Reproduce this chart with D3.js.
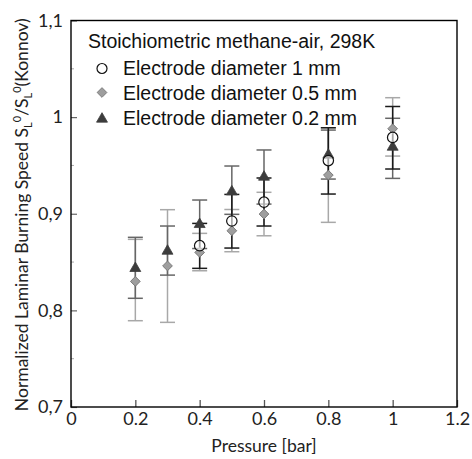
<!DOCTYPE html>
<html><head><meta charset="utf-8">
<script src="https://cdn.jsdelivr.net/npm/d3@7"></script>
<style>body{margin:0;background:#fff}svg{display:block}</style>
</head><body>
<svg id="c" width="472" height="459"></svg>
<script>
// ---- data ----
const xTickValues = [0, 0.2, 0.4, 0.6, 0.8, 1, 1.2];
const xTickLabels = ["0", "0.2", "0.4", "0.6", "0.8", "1", "1.2"];
const yTickValues = [0.7, 0.8, 0.9, 1.0, 1.1];
const yTickLabels = ["0,7", "0,8", "0,9", "1", "1,1"];
const yMinorTicks = [0.75, 0.85, 0.95, 1.05];

// Electrode diameter 1 mm (open circles)
const p1mm = [0.4, 0.5, 0.6, 0.8, 1.0];
const v1mm = [0.867, 0.8925, 0.912, 0.955, 0.979];
const lo1mm = [0.8435, 0.8645, 0.8873, 0.9204, 0.9463];
const hi1mm = [0.890, 0.920, 0.937, 0.989, 1.011];

// Electrode diameter 0.5 mm (grey diamonds)
const p05mm = [0.2, 0.3, 0.4, 0.5, 0.6, 0.8, 1.0];
const v05mm = [0.830, 0.846, 0.860, 0.8824, 0.8997, 0.940, 0.988];
const lo05mm = [0.7893, 0.7876, 0.841, 0.8607, 0.8772, 0.8911, 0.9597];
const hi05mm = [0.8735, 0.9042, 0.8797, 0.9044, 0.9222, 0.989, 1.0201];

// Electrode diameter 0.2 mm (dark triangles)
const p02mm = [0.2, 0.3, 0.4, 0.5, 0.6, 0.8, 1.0];
const v02mm = [0.8435, 0.8614, 0.889, 0.9228, 0.938, 0.9608, 0.969];
const lo02mm = [0.8125, 0.8365, 0.864, 0.8994, 0.910, 0.9359, 0.9366];
const hi02mm = [0.8756, 0.8873, 0.9142, 0.9494, 0.966, 0.9866, 0.9988];

const legendTitle = "Stoichiometric methane-air, 298K";
const legendLabels = ["Electrode diameter 1 mm", "Electrode diameter 0.5 mm", "Electrode diameter 0.2 mm"];

// ---- drawing ----
const svg = d3.select("#c");
const L = 71, R = 457, T = 20.5, B = 407;
const x = d3.scaleLinear().domain([0, 1.2]).range([L, R]);
const y = d3.scaleLinear().domain([0.7, 1.1]).range([B, T]);
const tickFont = "Lato, 'Open Sans', sans-serif";
const legFont = "'Liberation Sans', Arial, sans-serif";

// x axis
const gx = svg.append("g").attr("transform", `translate(0,${B})`)
  .call(d3.axisBottom(x).tickValues(xTickValues).tickSizeInner(-7).tickSizeOuter(0)
    .tickPadding(5).tickFormat((d, i) => xTickLabels[i]));
gx.select(".domain").remove();
gx.selectAll(".tick line").attr("stroke", "#555").attr("stroke-width", 1.3);
gx.selectAll(".tick text").attr("font-family", tickFont).attr("font-size", 18).attr("fill", "#222");

// y axis
const gy = svg.append("g").attr("transform", `translate(${L},0)`)
  .call(d3.axisLeft(y).tickValues(yTickValues).tickSizeInner(-6).tickSizeOuter(0)
    .tickPadding(8).tickFormat((d, i) => yTickLabels[i]));
gy.select(".domain").remove();
gy.selectAll(".tick line").attr("stroke", "#666").attr("stroke-width", 1.2);
gy.selectAll(".tick text").attr("font-family", tickFont).attr("font-size", 18).attr("fill", "#222");
svg.append("g").selectAll("line").data(yMinorTicks).join("line")
  .attr("x1", L).attr("x2", L + 3).attr("y1", d => y(d)).attr("y2", d => y(d))
  .attr("stroke", "#aaa").attr("stroke-width", 1);

// frame
svg.append("rect").attr("x", L).attr("y", T).attr("width", R - L).attr("height", B - T)
  .attr("fill", "none").attr("stroke", "#000").attr("stroke-width", 1.4);

// axis titles
svg.append("text").attr("x", (L + R) / 2).attr("y", 452).attr("text-anchor", "middle")
  .attr("font-family", tickFont).attr("font-size", 17.5).attr("fill", "#222").text("Pressure [bar]");

const yt = svg.append("text").attr("transform", `translate(28,${(T + B) / 2 + 1}) rotate(-90)`)
  .attr("text-anchor", "middle").attr("font-family", tickFont).attr("font-size", 17.5).attr("fill", "#222");
yt.append("tspan").text("Normalized Laminar Burning Speed S");
yt.append("tspan").attr("font-size", 11).attr("dy", 4).text("L");
yt.append("tspan").attr("font-size", 11).attr("dy", -11).text("0");
yt.append("tspan").attr("dy", 7).text("/S");
yt.append("tspan").attr("font-size", 11).attr("dy", 4).text("L");
yt.append("tspan").attr("font-size", 11).attr("dy", -11).text("0");
yt.append("tspan").attr("dy", 7).text("(Konnov)");

// error bars
function errorBars(ps, lo, hi, color, width) {
  const g = svg.append("g").attr("stroke", color).attr("stroke-width", width);
  const idx = d3.range(ps.length);
  g.selectAll(".v").data(idx).join("line")
    .attr("x1", i => x(ps[i])).attr("x2", i => x(ps[i]))
    .attr("y1", i => y(lo[i])).attr("y2", i => y(hi[i]));
  g.selectAll(".lo").data(idx).join("line")
    .attr("x1", i => x(ps[i]) - 7.5).attr("x2", i => x(ps[i]) + 7.5)
    .attr("y1", i => y(lo[i])).attr("y2", i => y(lo[i]));
  g.selectAll(".hi").data(idx).join("line")
    .attr("x1", i => x(ps[i]) - 7.5).attr("x2", i => x(ps[i]) + 7.5)
    .attr("y1", i => y(hi[i])).attr("y2", i => y(hi[i]));
}
errorBars(p05mm, lo05mm, hi05mm, "#a8a8a8", 1.5);
errorBars(p02mm, lo02mm, hi02mm, "#666", 1.5);
errorBars(p1mm, lo1mm, hi1mm, "#1a1a1a", 1.5);

const diamond = d3.symbol().type(d3.symbolDiamond2).size(60);
const triangle = d3.symbol().type(d3.symbolTriangle).size(52);

// markers
svg.append("g").selectAll("path").data(d3.range(p05mm.length)).join("path")
  .attr("d", diamond).attr("transform", i => `translate(${x(p05mm[i])},${y(v05mm[i])})`)
  .attr("fill", "#9e9e9e").attr("stroke", "#7a7a7a").attr("stroke-width", 1);
svg.append("g").selectAll("path").data(d3.range(p02mm.length)).join("path")
  .attr("d", triangle).attr("transform", i => `translate(${x(p02mm[i])},${y(v02mm[i])})`)
  .attr("fill", "#3c3c3c").attr("stroke", "#3c3c3c").attr("stroke-width", 0.8);
svg.append("g").selectAll("circle").data(d3.range(p1mm.length)).join("circle")
  .attr("cx", i => x(p1mm[i])).attr("cy", i => y(v1mm[i])).attr("r", 5.2)
  .attr("fill", "#fff").attr("fill-opacity", 0.6).attr("stroke", "#111").attr("stroke-width", 1.2);

// legend
svg.append("text").attr("x", 88).attr("y", 48).attr("font-family", legFont).attr("font-size", 19.5)
  .attr("fill", "#111").text(legendTitle);
const rowsY = [74.5, 99.5, 125];
legendLabels.forEach((t, i) => {
  svg.append("text").attr("x", 123).attr("y", rowsY[i]).attr("font-family", legFont)
    .attr("font-size", 19.5).attr("fill", "#111").text(t);
});
svg.append("circle").attr("cx", 102).attr("cy", 68.5).attr("r", 5)
  .attr("fill", "#fff").attr("stroke", "#111").attr("stroke-width", 1.2);
svg.append("path").attr("d", diamond).attr("transform", "translate(102,92.5)")
  .attr("fill", "#9e9e9e").attr("stroke", "#7a7a7a").attr("stroke-width", 1);
svg.append("path").attr("d", triangle).attr("transform", "translate(102,119)")
  .attr("fill", "#3c3c3c").attr("stroke", "#3c3c3c").attr("stroke-width", 0.8);
</script>
</body></html>
